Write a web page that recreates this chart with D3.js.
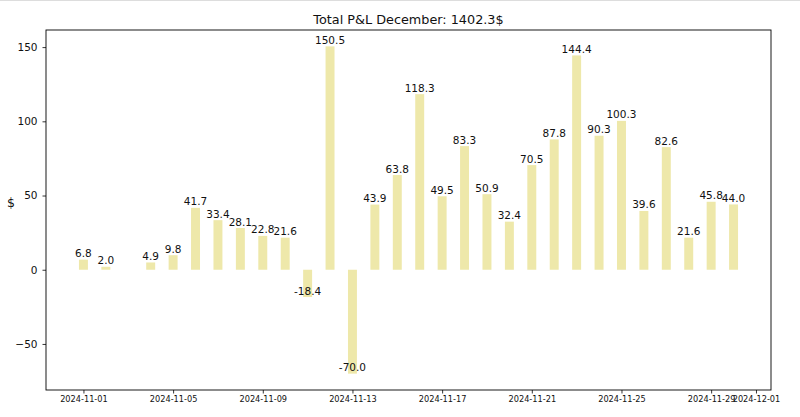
<!DOCTYPE html>
<html>
<head>
<meta charset="utf-8">
<script src="https://cdn.jsdelivr.net/npm/d3@7"></script>
<style>
  html, body { margin: 0; padding: 0; background: #fff; }
  svg { display: block; font-family: "DejaVu Sans", sans-serif; }
</style>
</head>
<body>
<svg id="chart" width="800" height="417"></svg>
<script>
const titleText = "Total P&L December: 1402.3$";
const yLabel = "$";
const dates = ["2024-11-01","2024-11-02","2024-11-04","2024-11-05","2024-11-06","2024-11-07","2024-11-08","2024-11-09","2024-11-10","2024-11-11","2024-11-12","2024-11-13","2024-11-14","2024-11-15","2024-11-16","2024-11-17","2024-11-18","2024-11-19","2024-11-20","2024-11-21","2024-11-22","2024-11-23","2024-11-24","2024-11-25","2024-11-26","2024-11-27","2024-11-28","2024-11-29","2024-11-30"];
const pnl = [6.8,2.0,4.9,9.8,41.7,33.4,28.1,22.8,21.6,-18.4,150.5,-70.0,43.9,63.8,118.3,49.5,83.3,50.9,32.4,70.5,87.8,144.4,90.3,100.3,39.6,82.6,21.6,45.8,44.0];
const xTickLabels = ["2024-11-01","2024-11-05","2024-11-09","2024-11-13","2024-11-17","2024-11-21","2024-11-25","2024-11-29","2024-12-01"];
const yTicks = [-50, 0, 50, 100, 150];

const DAY = 86400000;
const parse = s => new Date(s + "T00:00:00Z");
const data = dates.map((d, i) => ({ date: parse(d), value: pnl[i] }));

const svg = d3.select("#chart");
const W = 800, H = 417;
const m = { left: 46, right: 29, top: 30, bottom: 27 };
const iw = W - m.left - m.right, ih = H - m.top - m.bottom;

// faint screenshot border at top
svg.append("line").attr("x1", 0).attr("x2", W).attr("y1", 0.5).attr("y2", 0.5)
  .attr("stroke", "#ddd").attr("stroke-width", 1);

// x domain: bar extent (±0.2 day) with 5% margins
const halfW = 0.2 * DAY;
const t0 = d3.min(data, d => +d.date) - halfW;
const t1 = d3.max(data, d => +d.date) + halfW;
const padX = (t1 - t0) * 0.05;
const x = d3.scaleUtc().domain([new Date(t0 - padX), new Date(t1 + padX)]).range([m.left, m.left + iw]);

const vmin = Math.min(0, d3.min(pnl)), vmax = Math.max(0, d3.max(pnl));
const padY = (vmax - vmin) * 0.05;
const y = d3.scaleLinear().domain([vmin - padY, vmax + padY]).range([m.top + ih, m.top]);

// bars
svg.append("g").selectAll("rect").data(data).join("rect")
  .attr("x", d => x(new Date(+d.date - halfW)))
  .attr("width", d => x(new Date(+d.date + halfW)) - x(new Date(+d.date - halfW)))
  .attr("y", d => y(Math.max(0, d.value)))
  .attr("height", d => Math.abs(y(d.value) - y(0)))
  .attr("fill", "#eee8aa");

// bar labels (va bottom at value)
svg.append("g").selectAll("text").data(data).join("text")
  .attr("x", d => x(d.date))
  .attr("y", d => y(d.value) - 2.5)
  .attr("text-anchor", "middle")
  .attr("font-size", 10.5)
  .attr("fill", "#111")
  .text(d => d.value.toFixed(1));

// axes
const xAxis = d3.axisBottom(x)
  .tickValues(xTickLabels.map(parse))
  .tickFormat(d3.utcFormat("%Y-%m-%d"))
  .tickSizeOuter(0).tickSize(3.5).tickPadding(3);
const gx = svg.append("g").attr("transform", `translate(0,${m.top + ih})`).call(xAxis);
gx.select(".domain").remove();
gx.selectAll("text").attr("font-size", 8.2).attr("fill", "#111").attr("font-family", "DejaVu Sans");
gx.selectAll("line").attr("stroke", "#000").attr("stroke-width", 0.8);

const yAxis = d3.axisLeft(y).tickValues(yTicks).tickFormat(d => d < 0 ? "\u2212" + Math.abs(d) : d)
  .tickSizeOuter(0).tickSize(3.5).tickPadding(5);
const gy = svg.append("g").attr("transform", `translate(${m.left},0)`).call(yAxis);
gy.select(".domain").remove();
gy.selectAll("text").attr("font-size", 10.5).attr("fill", "#111").attr("font-family", "DejaVu Sans");
gy.selectAll("line").attr("stroke", "#000").attr("stroke-width", 0.8);

// frame
svg.append("rect").attr("x", m.left).attr("y", m.top).attr("width", iw).attr("height", ih)
  .attr("fill", "none").attr("stroke", "#000").attr("stroke-width", 0.9);

// title
svg.append("text").attr("x", m.left + iw / 2).attr("y", 24)
  .attr("text-anchor", "middle").attr("font-size", 12.8).attr("fill", "#111")
  .text(titleText);

// y label
svg.append("text").attr("x", 11).attr("y", 207)
  .attr("text-anchor", "middle").attr("font-size", 12.5).attr("fill", "#111")
  .text(yLabel);
</script>
</body>
</html>
